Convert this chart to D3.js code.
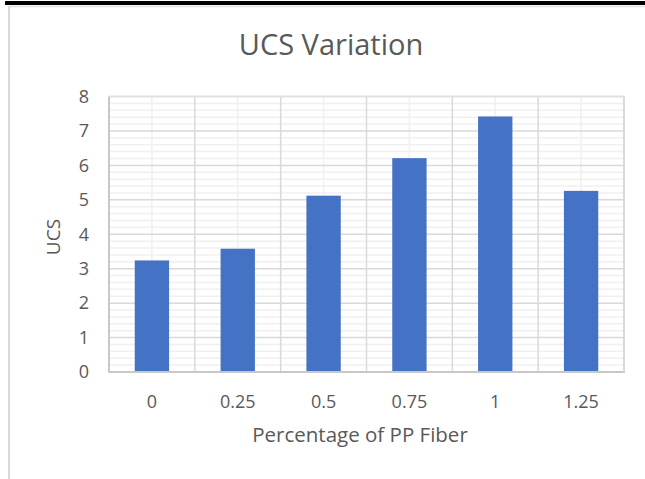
<!DOCTYPE html>
<html><head><meta charset="utf-8">
<script src="https://cdn.jsdelivr.net/npm/d3@7"></script>
<style>body{margin:0;background:#fff;}svg{display:block;}</style>
</head><body>
<script>
const categories = ["0","0.25","0.5","0.75","1","1.25"];
const ucsValues = [3.24, 3.58, 5.12, 6.21, 7.42, 5.26];
const yTicks = [0,1,2,3,4,5,6,7,8];
const chartTitle = "UCS Variation";
const xTitle = "Percentage of PP Fiber";
const yTitle = "UCS";

const W = 645, H = 479;
const svg = d3.select("body").append("svg").attr("width", W).attr("height", H);
const font = "'Open Sans', 'Liberation Sans', sans-serif";
const txt = "#595959";

// frame
svg.append("rect").attr("x",5).attr("y",1).attr("width",640).attr("height",4).attr("fill","#000");
svg.append("line").attr("x1",9).attr("x2",9).attr("y1",6).attr("y2",H).attr("stroke","#d9d9d9").attr("stroke-width",2);
svg.append("line").attr("x1",9).attr("x2",W).attr("y1",6.5).attr("y2",6.5).attr("stroke","#e0e0e0").attr("stroke-width",1.5);

const m = {l:109, r:624, t:96.5, b:372};
const x = d3.scaleBand().domain(categories).range([m.l, m.r]).paddingInner(0.6).paddingOuter(0.3);
const xb = d3.scaleBand().domain(categories).range([m.l, m.r]);
const y = d3.scaleLinear().domain([0,8]).range([m.b, m.t]);

const g = svg.append("g");
// minor horizontal grid
const minor = d3.range(0, 8.0001, 0.2).filter(v => Math.abs(v - Math.round(v)) > 1e-6);
g.selectAll(".hmin").data(minor).enter().append("line")
  .attr("x1", m.l).attr("x2", m.r).attr("y1", d => y(d)).attr("y2", d => y(d))
  .attr("stroke","#f0f0f0").attr("stroke-width",1.5);
// minor vertical grid at category centers
g.selectAll(".vmin").data(categories).enter().append("line")
  .attr("x1", d => xb(d)+xb.bandwidth()/2).attr("x2", d => xb(d)+xb.bandwidth()/2)
  .attr("y1", m.t).attr("y2", m.b).attr("stroke","#f0f0f0").attr("stroke-width",1.5);
// major horizontal grid
g.selectAll(".hmaj").data(yTicks).enter().append("line")
  .attr("x1", m.l).attr("x2", m.r).attr("y1", d => y(d)).attr("y2", d => y(d))
  .attr("stroke","#d9d9d9").attr("stroke-width",1.5);
// major vertical grid at category boundaries
const bounds = categories.map(d => xb(d)).concat([m.r]);
g.selectAll(".vmaj").data(bounds).enter().append("line")
  .attr("x1", d => d).attr("x2", d => d).attr("y1", m.t).attr("y2", m.b)
  .attr("stroke","#d9d9d9").attr("stroke-width",1.5);

// bars
g.selectAll(".bar").data(ucsValues).enter().append("rect")
  .attr("x", (d,i) => x(categories[i])).attr("width", x.bandwidth())
  .attr("y", d => y(d)).attr("height", d => y(0) - y(d))
  .attr("fill","#4472c4");

// axis lines
g.append("line").attr("x1",m.l).attr("x2",m.l).attr("y1",m.t).attr("y2",m.b+1).attr("stroke","#c8c8c8").attr("stroke-width",2);
g.append("line").attr("x1",m.l).attr("x2",m.r+1).attr("y1",m.b).attr("y2",m.b).attr("stroke","#c8c8c8").attr("stroke-width",2);
g.append("line").attr("x1",m.r).attr("x2",m.r).attr("y1",m.t).attr("y2",m.b).attr("stroke","#d9d9d9").attr("stroke-width",2);
g.append("line").attr("x1",m.l).attr("x2",m.r).attr("y1",m.t).attr("y2",m.t).attr("stroke","#e0e0e0").attr("stroke-width",1.5);

// y axis labels
const ya = svg.append("g").attr("transform",`translate(${m.l},0)`)
  .call(d3.axisLeft(y).tickValues(yTicks).tickSize(0).tickPadding(20).tickFormat(d3.format("d")));
ya.select(".domain").remove();
ya.selectAll("text").attr("font-family",font).attr("font-size",18).attr("fill",txt);

// x axis labels
const xa = svg.append("g").attr("transform",`translate(0,${m.b})`)
  .call(d3.axisBottom(xb).tickSize(0).tickPadding(23));
xa.select(".domain").remove();
xa.selectAll("text").attr("font-family",font).attr("font-size",18).attr("fill",txt);

// titles
svg.append("text").attr("x",331).attr("y",55).attr("text-anchor","middle")
  .attr("font-family",font).attr("font-size",29).attr("fill",txt).text(chartTitle);
svg.append("text").attr("x",360).attr("y",442).attr("text-anchor","middle")
  .attr("font-family",font).attr("font-size",20.5).attr("fill",txt).text(xTitle);
svg.append("text").attr("transform","translate(60,237) rotate(-90)").attr("text-anchor","middle")
  .attr("font-family",font).attr("font-size",19).attr("fill",txt).text(yTitle);
</script>
</body></html>
